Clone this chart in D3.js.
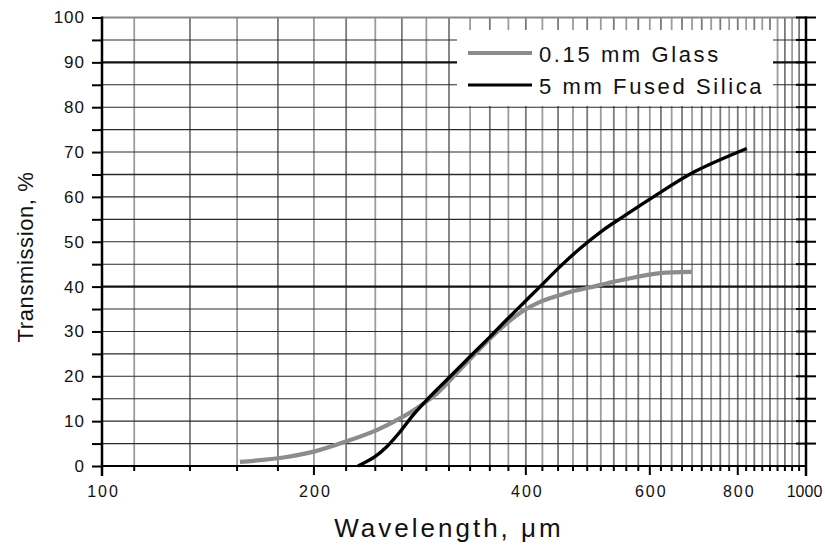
<!DOCTYPE html>
<html>
<head>
<meta charset="utf-8">
<script src="https://cdn.jsdelivr.net/npm/d3@7"></script>
<style>
  body { margin: 0; background: #fff; }
  text { font-family: "Liberation Sans", Arial, sans-serif; fill: #111; }
</style>
</head>
<body>
<svg id="chart" width="825" height="545"></svg>
<script>
// values
var glassWl = [157, 181, 200, 222.6, 245.6, 265, 280, 295.6, 309, 333, 355.7, 375.7, 396.7, 419, 447, 467, 493, 521, 556, 620, 688];
var glassT  = [0.9, 1.9, 3.2, 5.5, 8.0, 10.6, 12.9, 15.5, 18.4, 23.8, 28.4, 31.8, 34.6, 36.6, 38.1, 39.0, 39.8, 40.7, 41.7, 43.0, 43.3];

var silicaWl = [231, 244.2, 253.8, 265, 276.8, 289.2, 302, 312, 333.3, 355.7, 375.7, 396.7, 419, 447, 477.5, 515, 550, 607, 692, 824];
var silicaT  = [0, 2.1, 4.3, 7.6, 11.4, 14.7, 17.7, 19.9, 24.4, 28.8, 32.6, 36.3, 40.0, 44.4, 48.5, 52.6, 55.6, 60.0, 65.5, 70.8];

var xLabels = [100, 200, 400, 600, 800, 1000];
var yTicks = d3.range(0, 101, 5);
var xGrid = d3.range(1, 82, 2).map(function(n) { return 100 + n * 100 / 9; });
var seriesNames = ["0.15 mm Glass", "5 mm Fused Silica"];

var svg = d3.select("#chart");

var x = d3.scaleLog().domain([100, 1000]).range([102, 806]);
var y = d3.scaleLinear().domain([0, 100]).range([466, 17.5]);

// vertical grid
svg.append("g").selectAll("line")
	.data(xGrid)
	.enter().append("line")
	.attr("x1", function(d) { return x(d); })
	.attr("x2", function(d) { return x(d); })
	.attr("y1", y(100))
	.attr("y2", y(0))
	.style("stroke", function(d, i) { return i % 2 ? "#7a7a7a" : "#9c9c9c"; })
	.style("stroke-width", 1.8);

// horizontal grid
svg.append("g").selectAll("line")
	.data(yTicks.filter(function(d) { return d > 0 && d < 100; }))
	.enter().append("line")
	.attr("x1", x(100))
	.attr("x2", x(1000))
	.attr("y1", function(d) { return y(d); })
	.attr("y2", function(d) { return y(d); })
	.style("stroke", function(d) { return (d == 40 || d == 90) ? "#111" : "#2a2a2a"; })
	.style("stroke-width", function(d) { return (d == 40 || d == 90) ? 2.2 : (d == 65 ? 1.6 : 1.1); });

// top border
svg.append("line")
	.attr("x1", x(100)).attr("x2", x(1000))
	.attr("y1", y(100)).attr("y2", y(100))
	.style("stroke", "#888")
	.style("stroke-width", 2);

// legend box (white, covers grid)
var legend = svg.append("g").attr("transform", "translate(457,30)");
legend.append("rect")
	.attr("width", 316)
	.attr("height", 76)
	.style("fill", "#fff");

// curves
var line = d3.line()
	.x(function(d) { return x(d[0]); })
	.y(function(d) { return y(d[1]); })
	.curve(d3.curveCatmullRom);

svg.append("path")
	.datum(d3.zip(glassWl, glassT))
	.attr("d", line)
	.style("fill", "none")
	.style("stroke", "#8c8c8c")
	.style("stroke-width", 4.2);

svg.append("path")
	.datum(d3.zip(silicaWl, silicaT))
	.attr("d", line)
	.style("fill", "none")
	.style("stroke", "#000")
	.style("stroke-width", 3.4);

// legend entries
var legendColors = ["#8c8c8c", "#000"];
var legendWidths = [4, 3];
seriesNames.forEach(function(name, i) {
	var g = legend.append("g").attr("transform", "translate(0," + (23 + i * 32) + ")");
	g.append("line")
		.attr("x1", 11).attr("x2", 75)
		.attr("y1", 0).attr("y2", 0)
		.style("stroke", legendColors[i])
		.style("stroke-width", legendWidths[i]);
	g.append("text")
		.attr("x", 82)
		.attr("y", 8.5)
		.text(name)
		.style("font-size", "22px")
		.style("letter-spacing", "2.6px");
});

// left axis
var yAxisL = d3.axisLeft(y).tickValues(yTicks).tickSize(10).tickPadding(8)
	.tickFormat(function(d) { return d % 10 == 0 ? d : ""; });
var gL = svg.append("g").attr("transform", "translate(" + x(100) + ",0)").call(yAxisL);
gL.select(".domain").remove();
gL.selectAll(".tick line").style("stroke", "#000").style("stroke-width", 2);
gL.selectAll(".tick text").style("font-size", "17px").style("letter-spacing", "1px")
	.attr("font-family", null).attr("dx", "1px");

svg.append("line")
	.attr("x1", x(100)).attr("x2", x(100))
	.attr("y1", y(100) - 1).attr("y2", y(0) + 10)
	.style("stroke", "#000").style("stroke-width", 2.5);

// right axis
svg.append("g").selectAll("line")
	.data(yTicks.filter(function(d) { return d > 0; }))
	.enter().append("line")
	.attr("x1", x(1000) - 10).attr("x2", x(1000) + 10)
	.attr("y1", function(d) { return y(d); })
	.attr("y2", function(d) { return y(d); })
	.style("stroke", "#000").style("stroke-width", 2);

svg.append("line")
	.attr("x1", x(1000)).attr("x2", x(1000))
	.attr("y1", y(100) - 1).attr("y2", y(0) + 10)
	.style("stroke", "#000").style("stroke-width", 2.5);

// bottom axis
svg.append("g").selectAll("line")
	.data(xGrid)
	.enter().append("line")
	.attr("x1", function(d) { return x(d); })
	.attr("x2", function(d) { return x(d); })
	.attr("y1", y(0))
	.attr("y2", function(d) { return xLabels.indexOf(Math.round(d)) >= 0 ? y(0) + 9 : y(0) + 5; })
	.style("stroke", "#000").style("stroke-width", 2);

var xAxis = d3.axisBottom(x).tickValues(xLabels).tickSize(0).tickPadding(20)
	.tickFormat(d3.format("d"));
var gX = svg.append("g").attr("transform", "translate(0," + y(0) + ")").call(xAxis);
gX.select(".domain").remove();
gX.selectAll(".tick text").style("font-size", "16px")
	.style("letter-spacing", function(d) { return d == 1000 ? "0px" : "2px"; })
	.attr("font-family", null)
	.attr("dx", function(d) { return d == 1000 ? "-2px" : "1px"; });

svg.append("line")
	.attr("x1", x(100)).attr("x2", x(1000))
	.attr("y1", y(0)).attr("y2", y(0))
	.style("stroke", "#000").style("stroke-width", 2.2);

// axis titles
svg.append("text")
	.attr("x", 449)
	.attr("y", 537)
	.attr("text-anchor", "middle")
	.text("Wavelength, \u03bcm")
	.style("font-size", "26px")
	.style("letter-spacing", "3px");

svg.append("text")
	.attr("transform", "translate(33,257) rotate(-90)")
	.attr("text-anchor", "middle")
	.text("Transmission, %")
	.style("font-size", "22px")
	.style("letter-spacing", "0.6px");
</script>
</body>
</html>
